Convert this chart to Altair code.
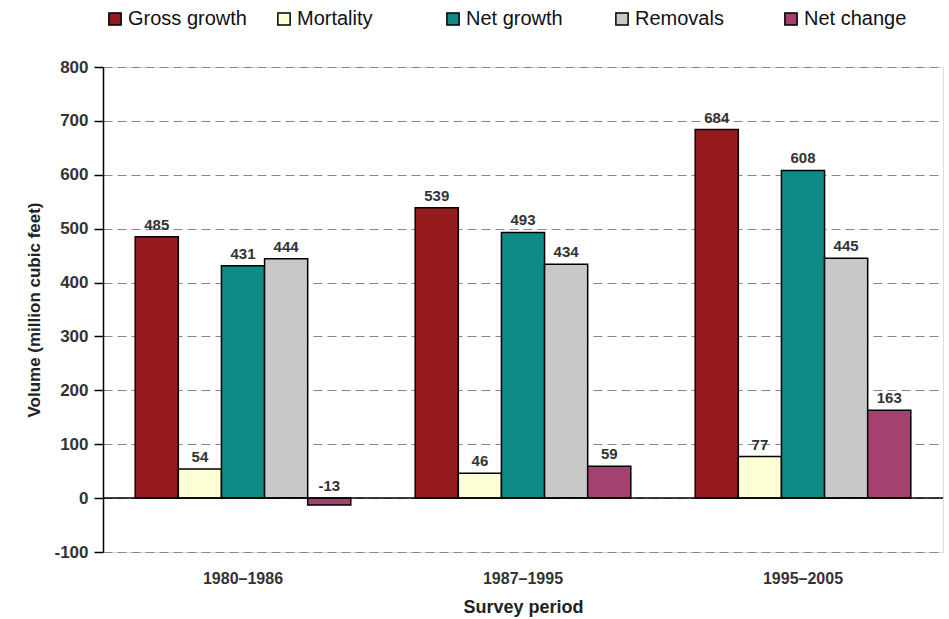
import altair as alt
import pandas as pd

periods = ["1980–1986", "1987–1995", "1995–2005"]
series = ["Gross growth", "Mortality", "Net growth", "Removals", "Net change"]
gross_growth = [485, 539, 684]
mortality = [54, 46, 77]
net_growth = [431, 493, 608]
removals = [444, 434, 445]
net_change = [-13, 59, 163]
colors = ["#951B1E", "#FFFFD6", "#0E8B87", "#C8C8C8", "#A5416E"]
y_ticks = [-100, 0, 100, 200, 300, 400, 500, 600, 700, 800]

values = [gross_growth, mortality, net_growth, removals, net_change]
rows = []
for s, vals in zip(series, values):
    for p, v in zip(periods, vals):
        rows.append({"period": p, "series": s, "value": v, "labpos": max(v, 0),
                     "label": str(v)})
df = pd.DataFrame(rows)

FONT = "Liberation Sans, Arial, sans-serif"

x = alt.X("period:N", sort=periods, title="Survey period",
          scale=alt.Scale(paddingInner=0.23, paddingOuter=0.115),
          axis=alt.Axis(labelAngle=0, domain=False, ticks=False, labelPadding=18,
                        labelFontSize=16, labelFontWeight="bold", labelColor="#333333",
                        titleFontSize=18, titleFontWeight="bold", titleColor="#222222",
                        titlePadding=12, labelFont=FONT, titleFont=FONT))
xoff = alt.XOffset("series:N", sort=series, scale=alt.Scale(paddingInner=0, paddingOuter=0))

bars = alt.Chart(df).mark_bar(stroke="black", strokeWidth=1.5).encode(
    x=x,
    xOffset=xoff,
    y=alt.Y("value:Q", title="Volume (million cubic feet)",
            scale=alt.Scale(domain=[-100, 800], nice=False),
            axis=alt.Axis(values=y_ticks, grid=True, gridDash=[9, 5], gridColor="#888888",
                          gridWidth=1.2, domainColor="black", domainWidth=1.5,
                          tickColor="black", tickSize=9, tickWidth=1.5,
                          labelExpr="replace(datum.label, '−', '-')",
                          labelFontSize=17, labelFontWeight="bold", labelColor="#333333",
                          labelPadding=6, titleFontSize=17, titleFontWeight="bold",
                          titleColor="#222222", titlePadding=10,
                          labelFont=FONT, titleFont=FONT)),
    color=alt.Color("series:N", sort=series,
                    scale=alt.Scale(domain=series, range=colors),
                    legend=alt.Legend(title=None, orient="none", direction="horizontal",
                                      legendX=2, legendY=-58, symbolType="square",
                                      symbolSize=150, symbolStrokeColor="black",
                                      symbolStrokeWidth=1.5, labelFontSize=20,
                                      labelFont=FONT, labelColor="#111111",
                                      gridAlign="all", columnPadding=27,
                                      symbolOffset=0, labelOffset=3)),
)

labels = alt.Chart(df).mark_text(dy=-12, fontSize=15, fontWeight="bold", color="#333333",
                                 font=FONT).encode(
    x=alt.X("period:N", sort=periods),
    xOffset=xoff,
    y=alt.Y("labpos:Q"),
    text=alt.Text("label:N"),
)

zero = alt.Chart(pd.DataFrame({"y": [0]})).mark_rule(color="black", strokeWidth=1.5).encode(
    y="y:Q"
)

chart = alt.layer(bars, zero, labels).properties(
    width=840, height=485,
    padding={"left": 103, "top": 67, "right": 6, "bottom": 67},
    autosize=alt.AutoSizeParams(type="none"),
).configure_view(stroke=None).configure(background="white")

chart.save("out.html", embed_options={"renderer": "svg", "actions": False})
